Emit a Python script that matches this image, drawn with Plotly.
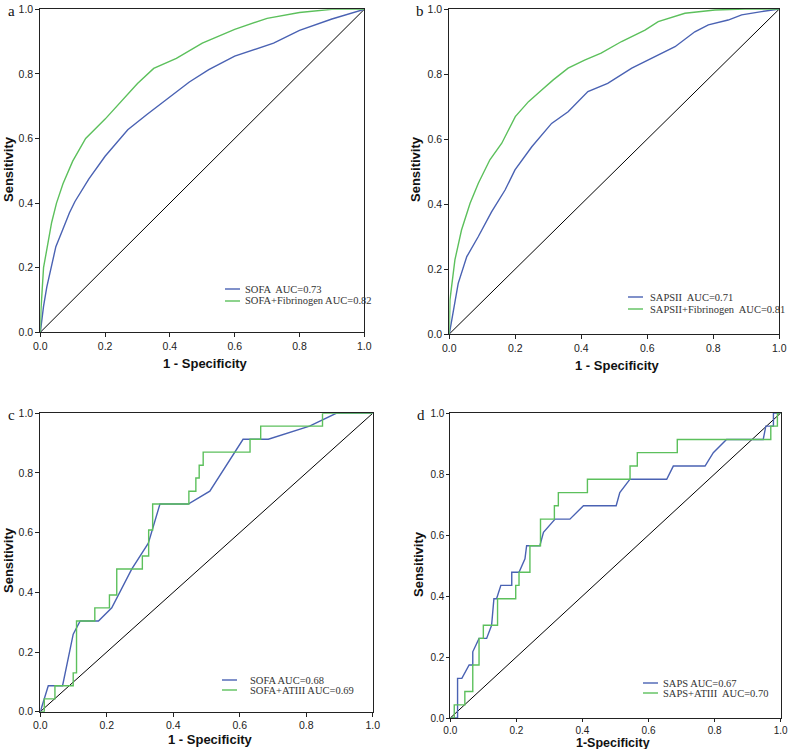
import plotly.graph_objects as go

# panel a: SOFA vs SOFA+Fibrinogen
a_sofa_x = [0, 0.01, 0.02, 0.035, 0.048, 0.07, 0.09, 0.107, 0.15, 0.2, 0.27, 0.33, 0.4, 0.46, 0.52, 0.6, 0.72, 0.8, 0.9, 1.0]
a_sofa_y = [0, 0.08, 0.14, 0.21, 0.265, 0.32, 0.37, 0.405, 0.475, 0.545, 0.627, 0.675, 0.73, 0.775, 0.813, 0.855, 0.895, 0.935, 0.97, 1.0]
a_fib_x = [0, 0.002, 0.01, 0.02, 0.035, 0.05, 0.07, 0.1, 0.14, 0.2, 0.27, 0.3, 0.35, 0.42, 0.5, 0.6, 0.7, 0.8, 0.9, 1.0]
a_fib_y = [0, 0.07, 0.2, 0.26, 0.34, 0.4, 0.46, 0.53, 0.6, 0.66, 0.735, 0.77, 0.817, 0.848, 0.895, 0.938, 0.972, 0.99, 1.0, 1.0]

# panel b: SAPSII vs SAPSII+Fibrinogen
b_saps_x = [0, 0.012, 0.027, 0.053, 0.088, 0.128, 0.169, 0.199, 0.25, 0.31, 0.36, 0.42, 0.48, 0.553, 0.613, 0.684, 0.744, 0.785, 0.845, 0.886, 0.946, 1.0]
b_saps_y = [0, 0.074, 0.156, 0.238, 0.3, 0.376, 0.443, 0.505, 0.576, 0.648, 0.684, 0.746, 0.771, 0.818, 0.849, 0.884, 0.93, 0.951, 0.966, 0.982, 0.992, 1.0]
b_fib_x = [0, 0.002, 0.017, 0.037, 0.063, 0.088, 0.123, 0.159, 0.2, 0.24, 0.28, 0.315, 0.36, 0.41, 0.46, 0.522, 0.593, 0.633, 0.714, 0.805, 0.896, 1.0]
b_fib_y = [0, 0.105, 0.228, 0.32, 0.402, 0.464, 0.536, 0.587, 0.669, 0.715, 0.751, 0.782, 0.818, 0.843, 0.864, 0.9, 0.935, 0.961, 0.987, 0.997, 1.0, 1.0]

# panel c: SOFA vs SOFA+ATIII
c_sofa_x = [0, 0.012, 0.024, 0.067, 0.099, 0.12, 0.175, 0.215, 0.275, 0.325, 0.36, 0.445, 0.51, 0.61, 0.686, 0.81, 0.89, 1.0]
c_sofa_y = [0, 0.043, 0.087, 0.087, 0.26, 0.304, 0.304, 0.348, 0.478, 0.565, 0.696, 0.696, 0.739, 0.913, 0.913, 0.957, 1.0, 1.0]
c_at3_x = [0, 0.012, 0.044, 0.099, 0.109, 0.164, 0.208, 0.230, 0.307, 0.326, 0.338, 0.447, 0.468, 0.478, 0.490, 0.631, 0.663, 0.849, 1.0]
c_at3_y = [0, 0.043, 0.087, 0.130, 0.304, 0.348, 0.391, 0.478, 0.522, 0.609, 0.696, 0.739, 0.783, 0.826, 0.870, 0.913, 0.957, 1.0, 1.0]

# panel d: SAPS vs SAPS+ATIII
d_saps_x = [0, 0.022, 0.022, 0.035, 0.057, 0.068, 0.068, 0.087, 0.11, 0.125, 0.132, 0.14, 0.153, 0.186, 0.186, 0.208, 0.226, 0.231, 0.271, 0.282, 0.317,
            0.362, 0.403, 0.502, 0.513, 0.544, 0.655, 0.675, 0.771, 0.796, 0.836, 0.947, 0.955, 0.978, 0.978, 1.0]
d_saps_y = [0, 0, 0.13, 0.13, 0.174, 0.174, 0.217, 0.261, 0.261, 0.304, 0.391, 0.391, 0.435, 0.435, 0.478, 0.478, 0.522, 0.565, 0.565, 0.609, 0.652,
            0.652, 0.696, 0.696, 0.739, 0.783, 0.783, 0.826, 0.826, 0.870, 0.913, 0.913, 0.957, 0.957, 1.0, 1.0]
d_at3_x = [0, 0.012, 0.044, 0.068, 0.087, 0.1, 0.143, 0.198, 0.208, 0.241, 0.273, 0.315, 0.327, 0.415, 0.544, 0.566, 0.687, 0.970, 0.99, 1.0]
d_at3_y = [0, 0.043, 0.087, 0.174, 0.261, 0.304, 0.391, 0.435, 0.478, 0.565, 0.652, 0.696, 0.739, 0.783, 0.826, 0.870, 0.913, 0.957, 1.0, 1.0]

diag = [0, 1]
ticks = [0, 0.2, 0.4, 0.6, 0.8, 1.0]

BLUE = '#4a62b3'
GREEN = '#5cc05c'
W, H = 790, 749
SANS = 'Liberation Sans, Arial'
SERIF = 'Liberation Serif, Times New Roman'

# plot boxes in pixels: left, right, top, bottom
boxes = {
    'a': (40.3, 364.3, 9.3, 332.3),
    'b': (449.3, 779.3, 9.0, 334.0),
    'c': (40.3, 372.7, 413.3, 711.7),
    'd': (450.3, 780.7, 413.0, 718.0),
}

# label, curve 1, curve 2 (x, y, stepped), legend texts, x title, title centres,
# legend pos, tick length, tick font size, x title size
panels = [
    ('a', a_sofa_x, a_sofa_y, False, a_fib_x, a_fib_y, False,
     'SOFA  AUC=0.73', 'SOFA+Fibrinogen AUC=0.82', '1 - Specificity', (205, 363, 8, 169), (225, 243, 289, 301), 4, 10.5, 13),
    ('b', b_saps_x, b_saps_y, False, b_fib_x, b_fib_y, False,
     'SAPSII  AUC=0.71', 'SAPSII+Fibrinogen  AUC=0.81', '1 - Specificity', (617, 365, 415, 169), (628, 648, 297, 309), 4, 10.5, 13),
    ('c', c_sofa_x, c_sofa_y, False, c_at3_x, c_at3_y, True,
     'SOFA AUC=0.68', 'SOFA+ATIII AUC=0.69', '1 - Specificity', (211, 739, 8, 560), (222, 248, 680, 690), 4, 10.5, 13),
    ('d', d_saps_x, d_saps_y, False, d_at3_x, d_at3_y, True,
     'SAPS AUC=0.67', 'SAPS+ATIII  AUC=0.70', '1-Specificity', (613, 742.5, 418, 564), (643, 661, 683, 693), 3, 10, 12.5),
]

fig = go.Figure()
layout = dict(width=W, height=H, margin=dict(l=0, r=0, t=0, b=0),
              paper_bgcolor='white', plot_bgcolor='white', showlegend=False)
shapes = []
annotations = []

for i, (lab, x1, y1, st1, x2, y2, st2, t1, t2, xtitle, tpos, leg, tl, tfs, xfs) in enumerate(panels):
    n = '' if i == 0 else str(i + 1)
    xa, ya = 'x' + n, 'y' + n
    l, r, t, b = boxes[lab]
    fig.add_trace(go.Scatter(x=diag, y=diag, mode='lines', xaxis=xa, yaxis=ya,
                             line=dict(color='black', width=1)))
    fig.add_trace(go.Scatter(x=x1, y=y1, mode='lines', xaxis=xa, yaxis=ya, name=t1,
                             line=dict(color=BLUE, width=1.4, shape='hv' if st1 else 'linear')))
    fig.add_trace(go.Scatter(x=x2, y=y2, mode='lines', xaxis=xa, yaxis=ya, name=t2,
                             line=dict(color=GREEN, width=1.4, shape='hv' if st2 else 'linear')))
    ax = dict(range=[0, 1], tickvals=ticks, ticktext=['%.1f' % v for v in ticks], automargin=False,
              showgrid=False, zeroline=False, showline=True, linecolor='#222', linewidth=1,
              mirror=True, ticks='outside', ticklen=tl, tickcolor='#222',
              tickfont=dict(family=SANS, size=tfs, color='#222'))
    layout['xaxis' + n] = dict(ax, domain=[l / W, r / W], anchor=ya)
    layout['yaxis' + n] = dict(ax, domain=[1 - b / H, 1 - t / H], anchor=xa)
    # axis titles
    xt_x, xt_y, yt_x, yt_y = tpos
    annotations.append(dict(text='<b>%s</b>' % xtitle, xref='paper', yref='paper',
                            x=xt_x / W, y=1 - xt_y / H, showarrow=False,
                            xanchor='center', yanchor='middle',
                            font=dict(family=SANS, size=xfs, color='#111')))
    annotations.append(dict(text='<b>Sensitivity</b>', xref='paper', yref='paper', textangle=-90,
                            x=yt_x / W, y=1 - yt_y / H, showarrow=False,
                            xanchor='center', yanchor='middle',
                            font=dict(family=SANS, size=13, color='#111')))
    # panel letter
    annotations.append(dict(text=lab, xref='paper', yref='paper', x=(l - 29) / W, y=1 - (t + 2) / H,
                            showarrow=False, xanchor='center', yanchor='middle',
                            font=dict(family=SERIF, size=15, color='#111')))
    # legend, drawn by hand to keep the short line keys
    lx, tx, ly1, ly2 = leg
    for yy, col, txt in [(ly1, BLUE, t1), (ly2, GREEN, t2)]:
        shapes.append(dict(type='line', xref='paper', yref='paper',
                           x0=lx / W, x1=(lx + 15) / W, y0=1 - yy / H, y1=1 - yy / H,
                           line=dict(color=col, width=1.4)))
        annotations.append(dict(text=txt, xref='paper', yref='paper', x=tx / W, y=1 - yy / H,
                                showarrow=False, xanchor='left', yanchor='middle',
                                font=dict(family=SERIF, size=10.5, color='#333')))

layout['shapes'] = shapes
layout['annotations'] = annotations
fig.update_layout(**layout)
# the page body has a default 8px margin; drop it so the figure sits at the corner
fig.write_html("out.html", config={'displayModeBar': False},
               post_script="document.body.style.margin='0';")
